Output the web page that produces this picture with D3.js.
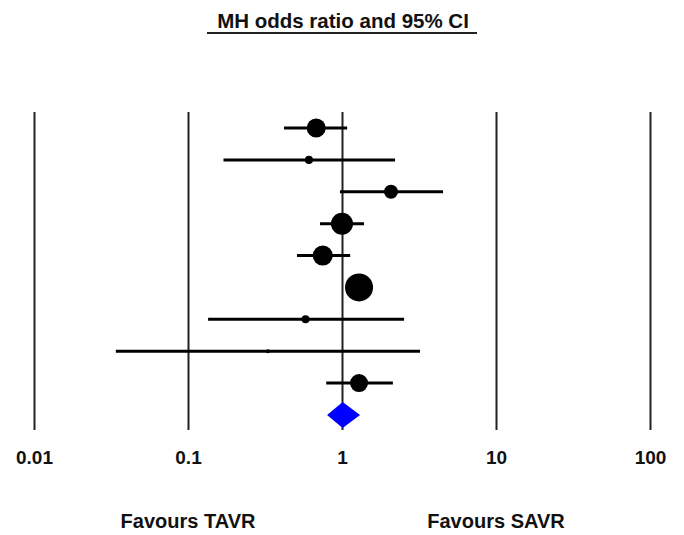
<!DOCTYPE html>
<html>
<head>
<meta charset="utf-8">
<script src="https://cdn.jsdelivr.net/npm/d3@7"></script>
<style>
  body { margin: 0; background: #fff; }
  svg { display: block; font-family: "Liberation Sans", Arial, sans-serif; }
</style>
</head>
<body>
<svg id="chart" width="684" height="535"></svg>
<script>
// Study estimates (MH odds ratio, 95% CI), top to bottom
const oddsRatio = [0.68, 0.61, 2.08, 1.0, 0.75, 1.29, 0.58, 0.33, 1.29];
const lowerCI   = [0.42, 0.17, 0.97, 0.72, 0.51, 1.06, 0.135, 0.034, 0.79];
const upperCI   = [1.08, 2.21, 4.53, 1.39, 1.13, 1.59, 2.53, 3.21, 2.14];
const weights   = [13.4, 2.4, 7.3, 18.0, 14.9, 29.1, 2.4, 0.6, 12.0];

// Pooled estimate
const pooled = { or: 1.01, lower: 0.80, upper: 1.31 };

const tickValues = [0.01, 0.1, 1, 10, 100];
const tickLabels = ['0.01', '0.1', '1', '10', '100'];
const sideLabels = [
  { text: 'Favours TAVR', at: 0.1 },
  { text: 'Favours SAVR', at: 10 }
];

const svg = d3.select('#chart');

const gridTop = 112;
const gridBottom = 430;

const x = d3.scaleLog().domain([0.01, 100]).range([34, 650]);
const y = d3.scalePoint()
  .domain(d3.range(oddsRatio.length + 1))
  .range([128, 415]);
const r = d3.scaleSqrt().domain([0, d3.max(weights)]).range([0, 14]);

// Title with underline
svg.append('text')
  .attr('x', 343)
  .attr('y', 28)
  .attr('text-anchor', 'middle')
  .attr('font-size', 20.5)
  .attr('font-weight', 'bold')
  .attr('fill', '#111')
  .text('MH odds ratio and 95% CI');

svg.append('line')
  .attr('x1', 207).attr('x2', 477)
  .attr('y1', 33).attr('y2', 33)
  .attr('stroke', '#222')
  .attr('stroke-width', 2);

// Axis: vertical reference lines + labels
const axis = d3.axisBottom(x)
  .tickValues(tickValues)
  .tickFormat((d, i) => tickLabels[i])
  .tickSize(-(gridBottom - gridTop))
  .tickPadding(21);

svg.append('g')
  .attr('transform', `translate(0,${gridBottom})`)
  .call(axis)
  .call(g => g.select('.domain').remove())
  .call(g => g.selectAll('.tick line')
    .attr('stroke', '#222')
    .attr('stroke-width', 2))
  .call(g => g.selectAll('.tick text')
    .attr('fill', '#111')
    .attr('font-size', 19)
    .attr('font-weight', 'bold')
    .attr('font-family', '"Liberation Sans", Arial, sans-serif'));

// Confidence intervals
const rows = oddsRatio.map((or, i) => ({
  or, lower: lowerCI[i], upper: upperCI[i], weight: weights[i], row: i
}));

svg.append('g')
  .selectAll('line')
  .data(rows)
  .join('line')
    .attr('x1', d => x(d.lower))
    .attr('x2', d => x(d.upper))
    .attr('y1', d => y(d.row))
    .attr('y2', d => y(d.row))
    .attr('stroke', '#000')
    .attr('stroke-width', 3);

// Point estimates sized by weight
svg.append('g')
  .selectAll('circle')
  .data(rows)
  .join('circle')
    .attr('cx', d => x(d.or))
    .attr('cy', d => y(d.row))
    .attr('r', d => Math.max(2, r(d.weight)))
    .attr('fill', '#000');

// Pooled diamond
const py = y(oddsRatio.length);
const halfH = 13;
svg.append('path')
  .attr('d', [
    [x(pooled.lower), py],
    [x(pooled.or), py - halfH],
    [x(pooled.upper), py],
    [x(pooled.or), py + halfH]
  ].map((p, i) => (i ? 'L' : 'M') + p[0] + ',' + p[1]).join('') + 'Z')
  .attr('fill', '#0000ff');

// Favours labels
svg.append('g')
  .selectAll('text')
  .data(sideLabels)
  .join('text')
    .attr('x', d => x(d.at))
    .attr('y', 528)
    .attr('text-anchor', 'middle')
    .attr('font-size', 20)
    .attr('font-weight', 'bold')
    .attr('fill', '#111')
    .text(d => d.text);
</script>
</body>
</html>
